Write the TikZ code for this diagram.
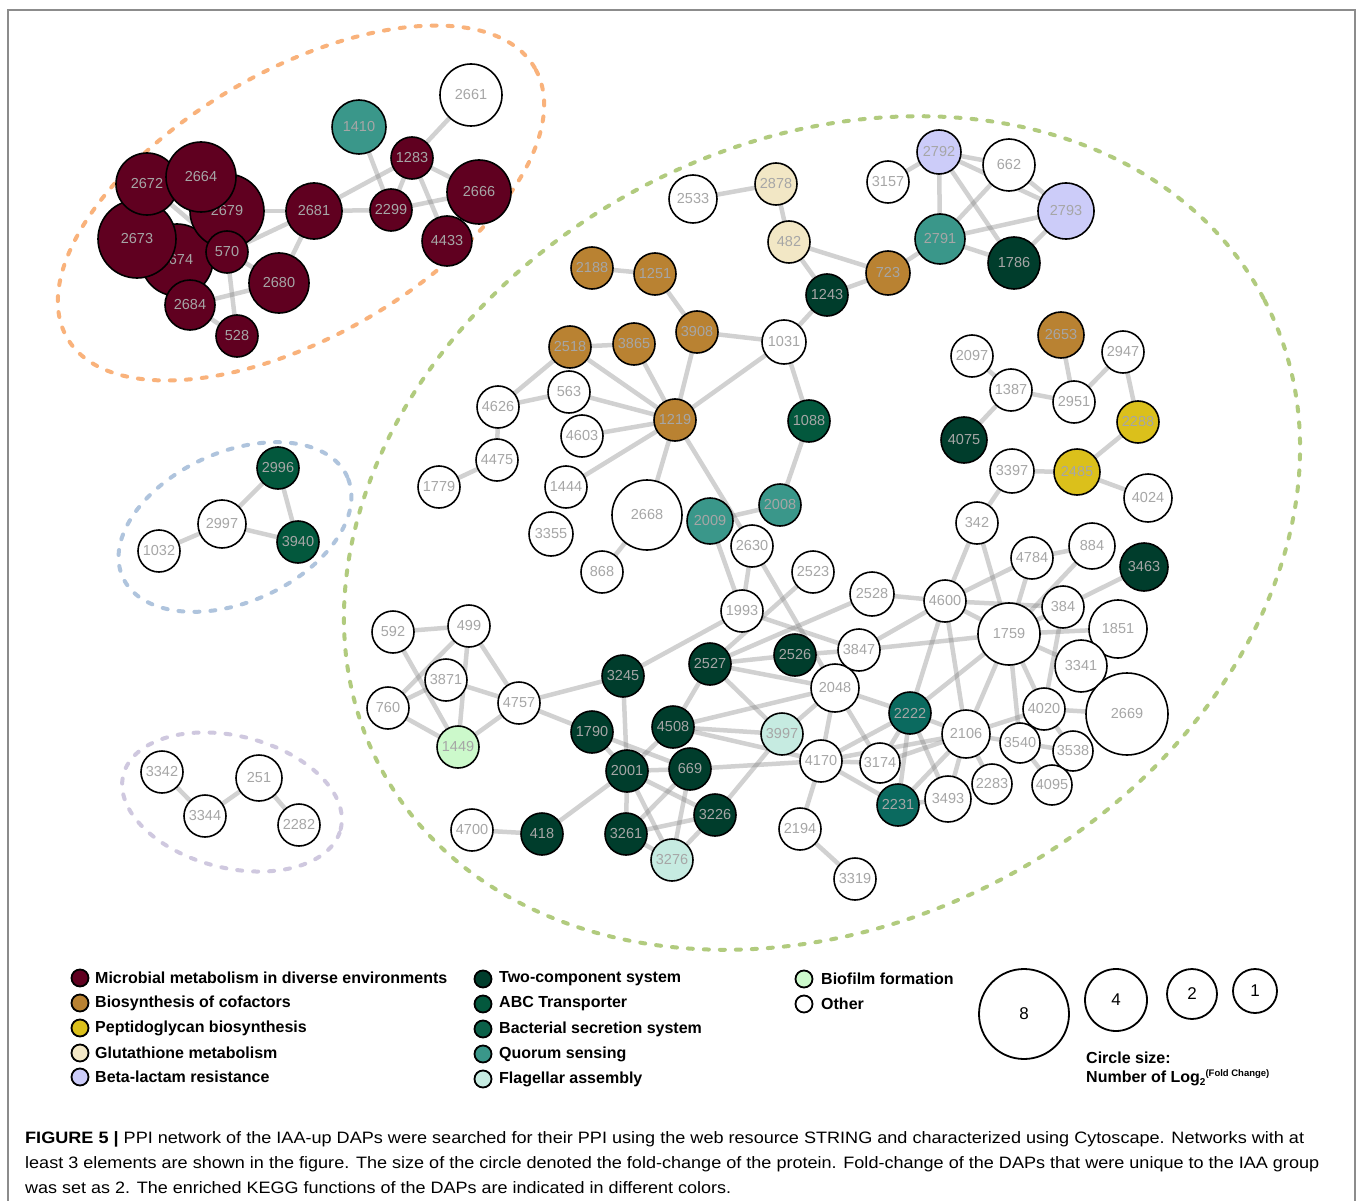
\documentclass[tikz,border=0pt]{standalone}
\usepackage{fontspec}
\setmainfont{Liberation Sans}
\usepackage{graphicx}
\pgfdeclarelayer{bgl}
\pgfdeclarelayer{edges}
\pgfdeclarelayer{hulls}
\pgfsetlayers{bgl,hulls,edges,main}
\definecolor{cmm}{HTML}{600020}
\definecolor{ccof}{HTML}{B98232}
\definecolor{cpep}{HTML}{DBC01B}
\definecolor{cglu}{HTML}{F2E7C5}
\definecolor{cbl}{HTML}{CCCCF9}
\definecolor{ctc}{HTML}{003D2C}
\definecolor{cabc}{HTML}{03583D}
\definecolor{csec}{HTML}{0B6A5F}
\definecolor{cqs}{HTML}{3A978A}
\definecolor{cfl}{HTML}{C6EBE1}
\definecolor{cbf}{HTML}{CCF9CB}
\definecolor{lbl}{HTML}{A6A6A6}
\definecolor{corg}{HTML}{F9B27B}
\definecolor{cgrn}{HTML}{B1CB7E}
\definecolor{cblu}{HTML}{AFC4DD}
\definecolor{cpur}{HTML}{CFC8DF}
\tikzset{
  nd/.style={circle, draw=black, line width=1.6pt, inner sep=0pt, text=lbl, font=\fontsize{14.5}{14.5}\selectfont},
  mm/.style={fill=cmm}, cof/.style={fill=ccof}, pep/.style={fill=cpep},
  glu/.style={fill=cglu}, bl/.style={fill=cbl}, tc/.style={fill=ctc},
  abc/.style={fill=cabc}, sec/.style={fill=csec}, qs/.style={fill=cqs},
  fl/.style={fill=cfl}, bf/.style={fill=cbf}, ot/.style={fill=white},
  ed/.style={draw=black!50, opacity=0.36, line width=4.5pt},
  hull/.style={line width=4pt, line cap=round, dash pattern=on 5pt off 11pt},
  legc/.style={circle, draw=black, line width=1.8pt, inner sep=0pt, minimum size=17pt},
  legt/.style={anchor=west, inner sep=0pt, font=\fontsize{16}{16}\selectfont\bfseries},
  sizec/.style={circle, draw=black, line width=1.8pt, inner sep=0pt, font=\fontsize{17}{17}\selectfont},
}
\newcommand\pn[5]{\node[nd,#5,minimum size={2*#4pt}] (n#1) at (#2,#3) {#1};}
\begin{document}
\begin{tikzpicture}[x=1pt,y=-1pt]
\useasboundingbox (0,0) rectangle (1360,1201);
\begin{pgfonlayer}{bgl}
\fill[white] (0,0) rectangle (1360,1201);
\end{pgfonlayer}
\draw[draw=black!45, line width=1.2pt] (8,1201) -- (8,10) -- (1355,10) -- (1355,1201);

% hulls
\begin{pgfonlayer}{hulls}
\draw[hull, draw=corg, rotate around={30:(301,203)}] (301,203) ellipse [x radius=270pt, y radius=133pt];
\draw[hull, draw=cgrn, rotate around={28:(822,533)}] (822,533) ellipse [x radius=500pt, y radius=390pt];
\draw[hull, draw=cblu, rotate around={24:(235,527)}] (235,527) ellipse [x radius=123pt, y radius=75pt];
\draw[hull, draw=cpur, rotate around={-14:(232,802)}] (232,802) ellipse [x radius=112pt, y radius=66pt];
\end{pgfonlayer}

% cluster 1
\pn{2674}{177}{260}{36}{mm}
\pn{2673}{137}{239}{39}{mm}
\pn{2672}{147}{184}{31}{mm}
\pn{2679}{227}{211}{37}{mm}
\pn{2664}{201}{177}{35}{mm}
\pn{570}{227}{252}{21}{mm}
\pn{2684}{190}{305}{25}{mm}
\pn{528}{237}{336}{21}{mm}
\pn{2680}{279}{283}{30}{mm}
\pn{2681}{314}{211}{28}{mm}
\pn{2299}{391}{210}{21}{mm}
\pn{1283}{412}{158}{21}{mm}
\pn{1410}{359}{127}{27}{qs}
\pn{2661}{471}{95}{31}{ot}
\pn{2666}{479}{192}{32}{mm}
\pn{4433}{447}{241}{25}{mm}
% cluster 2
\pn{2996}{278}{468}{21}{abc}
\pn{2997}{222}{524}{24}{ot}
\pn{3940}{298}{542}{21}{abc}
\pn{1032}{159}{551}{21}{ot}
% cluster 3
\pn{3342}{162}{772}{21}{ot}
\pn{3344}{205}{816}{21}{ot}
\pn{251}{259}{778}{23}{ot}
\pn{2282}{299}{825}{21}{ot}
% big cluster
\pn{2533}{693}{199}{24}{ot}
\pn{2878}{776}{184}{21}{glu}
\pn{482}{789}{242}{21}{glu}
\pn{3157}{888}{182}{21}{ot}
\pn{2188}{592}{268}{21}{cof}
\pn{1251}{655}{274}{21}{cof}
\pn{1243}{827}{295}{21}{tc}
\pn{723}{888}{273}{22}{cof}
\pn{2518}{570}{347}{21}{cof}
\pn{3865}{634}{344}{21}{cof}
\pn{3908}{697}{332}{21}{cof}
\pn{1031}{784}{342}{22}{ot}
\pn{2792}{939}{152}{22}{bl}
\pn{662}{1009}{165}{26}{ot}
\pn{2793}{1066}{211}{28}{bl}
\pn{2791}{940}{239}{25}{qs}
\pn{1786}{1014}{263}{26}{tc}
\pn{2653}{1061}{335}{23}{cof}
\pn{2097}{972}{356}{21}{ot}
\pn{2947}{1123}{352}{21}{ot}
\pn{1387}{1011}{390}{21}{ot}
\pn{2951}{1074}{402}{21}{ot}
\pn{2288}{1138}{422}{21}{pep}
\pn{4075}{964}{440}{23}{tc}
\pn{3397}{1012}{471}{22}{ot}
\pn{2485}{1077}{472}{23}{pep}
\pn{4024}{1148}{498}{24}{ot}
\pn{342}{977}{523}{21}{ot}
\pn{563}{569}{392}{21}{ot}
\pn{4626}{498}{407}{21}{ot}
\pn{4603}{582}{436}{21}{ot}
\pn{1219}{675}{420}{21}{cof}
\pn{1088}{809}{421}{21}{abc}
\pn{4475}{497}{460}{21}{ot}
\pn{1779}{439}{487}{21}{ot}
\pn{1444}{566}{487}{21}{ot}
\pn{3355}{551}{534}{22}{ot}
\pn{2668}{647}{515}{35}{ot}
\pn{2009}{710}{521}{23}{qs}
\pn{2008}{780}{505}{21}{qs}
\pn{2630}{752}{546}{21}{ot}
\pn{868}{602}{572}{21}{ot}
\pn{2523}{813}{572}{21}{ot}
\pn{1993}{742}{611}{21}{ot}
\pn{592}{393}{632}{21}{ot}
\pn{499}{469}{626}{21}{ot}
\pn{3871}{446}{680}{21}{ot}
\pn{760}{388}{708}{21}{ot}
\pn{4757}{519}{703}{21}{ot}
\pn{1449}{458}{747}{21}{bf}
\pn{3245}{623}{676}{21}{tc}
\pn{2527}{710}{664}{21}{tc}
\pn{2526}{795}{655}{21}{tc}
\pn{2048}{835}{688}{24}{ot}
\pn{1790}{592}{732}{21}{tc}
\pn{4508}{673}{727}{21}{tc}
\pn{3997}{782}{734}{21}{fl}
\pn{2001}{627}{771}{21}{tc}
\pn{669}{690}{769}{21}{tc}
\pn{4170}{821}{761}{21}{ot}
\pn{4700}{472}{830}{21}{ot}
\pn{418}{542}{834}{21}{tc}
\pn{3261}{626}{834}{21}{tc}
\pn{3226}{715}{815}{21}{tc}
\pn{3276}{672}{860}{21}{fl}
\pn{2194}{800}{829}{21}{ot}
\pn{3319}{855}{879}{21}{ot}
\pn{4784}{1032}{558}{21}{ot}
\pn{884}{1092}{546}{23}{ot}
\pn{3463}{1144}{567}{24}{tc}
\pn{2528}{872}{594}{22}{ot}
\pn{4600}{945}{601}{21}{ot}
\pn{384}{1063}{607}{21}{ot}
\pn{1759}{1009}{634}{31}{ot}
\pn{1851}{1118}{629}{29}{ot}
\pn{3847}{859}{650}{21}{ot}
\pn{3341}{1081}{666}{26}{ot}
\pn{2669}{1127}{714}{41}{ot}
\pn{4020}{1044}{709}{21}{ot}
\pn{2222}{910}{713}{21}{sec}
\pn{2106}{966}{734}{24}{ot}
\pn{3540}{1020}{743}{20}{ot}
\pn{3538}{1073}{751}{20}{ot}
\pn{3174}{880}{763}{20}{ot}
\pn{2231}{898}{805}{21}{sec}
\pn{3493}{948}{799}{23}{ot}
\pn{2283}{992}{784}{20}{ot}
\pn{4095}{1052}{785}{20}{ot}

% edges
\begin{pgfonlayer}{edges}
\foreach \a/\b in {2661/1283, 1283/2299, 1283/2666, 1283/4433, 1283/2681, 1410/2299, 2299/2666,
  2681/2299, 2681/2679, 2681/2680, 2681/570, 570/2680, 2684/2680, 570/528, 2684/528, 2672/570, 2679/2684,
  2996/2997, 2996/3940, 2997/3940, 2997/1032,
  3342/3344, 3344/251, 251/2282,
  2533/2878, 2878/482, 482/1243, 482/723, 1243/723, 723/2791, 3157/2792, 2792/662, 2792/2793, 662/2793,
  2792/2791, 2792/1786, 662/2791, 2791/2793, 2791/1786, 2793/1786,
  2188/1251, 1251/3908, 2518/3865, 3908/1031, 1243/1031, 3908/1219, 3865/1219, 2518/1219, 1031/1219,
  1031/1088, 2518/4626, 4626/563, 4626/4475, 4475/1779, 563/1219, 4603/1219, 1444/1219, 1219/2668,
  1219/2630, 868/2668, 2009/2008, 2008/1088, 2009/1993, 2630/1993, 2630/2048,
  2653/2951, 2947/2951, 2947/2288, 1387/2951, 2097/1387, 1387/4075, 2288/2485, 3397/2485, 2485/4024, 3397/342,
  2523/2527, 1993/3847, 1993/3245, 2527/2528, 2526/3847,
  2528/4600, 3847/4600, 3847/1759, 4600/342, 4600/4784, 4600/1759, 4600/384, 4600/2222, 4600/2106,
  1759/342, 1759/4784, 1759/384, 1759/1851, 1759/3341, 1759/4020, 1759/2106, 1759/3540, 1759/2222,
  4784/884, 384/3463, 884/1759, 384/4020, 4020/2669, 4020/2106, 4020/3538, 3540/3538, 3540/4095, 3540/2106,
  2106/2222, 2106/2283, 2106/3493, 2106/2231, 2106/3174, 4170/2106, 2222/3174, 2222/2231, 2222/4170,
  2222/3493, 2222/2048, 2048/4170, 2048/3174, 4170/3174, 4170/2231, 3493/2231, 4170/2194, 2194/3319,
  592/499, 592/1449, 499/760, 499/1449, 499/4757, 3871/760, 3871/4757, 760/1449, 1449/4757,
  4757/3245, 4757/1790, 1790/2001, 1790/669, 3245/2001, 2527/4508, 4508/2001, 4508/3997, 4508/2048,
  2527/3997, 2527/2048, 2527/2526, 2001/669, 669/4170, 2001/3261, 2001/3276, 2001/3226, 2001/418,
  669/3261, 669/3276, 3261/3226, 3226/3276, 3261/3276, 3226/3997, 418/4700, 3997/2048, 4508/4170}
  { \draw[ed] (n\a.center) -- (n\b.center); }
\end{pgfonlayer}

% legend
\node[legc, fill=cmm] (l1) at (80,978) {};
\node[legt] (t1) at (95,978) {Microbial metabolism in diverse environments};
\node[legc, fill=ccof] (l2) at (80,1003) {};
\node[legt] (t2) at (95,1003) {Biosynthesis of cofactors};
\node[legc, fill=cpep] (l3) at (80,1028) {};
\node[legt] (t3) at (95,1028) {Peptidoglycan biosynthesis};
\node[legc, fill=cglu] (l4) at (80,1053) {};
\node[legt] (t4) at (95,1053) {Glutathione metabolism};
\node[legc, fill=cbl] (l5) at (80,1077) {};
\node[legt] (t5) at (95,1077) {Beta-lactam resistance};
\node[legc, fill=ctc] (l6) at (483,979) {};
\node[legt] (t6) at (499,979) {Two-component system};
\node[legc, fill=cabc] (l7) at (483,1004) {};
\node[legt] (t7) at (499,1004) {ABC Transporter};
\node[legc, fill=cabc!85!cqs] (l8) at (483,1029) {};
\node[legt] (t8) at (499,1029) {Bacterial secretion system};
\node[legc, fill=cqs] (l9) at (483,1054) {};
\node[legt] (t9) at (499,1054) {Quorum sensing};
\node[legc, fill=cfl] (l10) at (483,1079) {};
\node[legt] (t10) at (499,1079) {Flagellar assembly};
\node[legc, fill=cbf] (l11) at (804,979) {};
\node[legt] (t11) at (821,979) {Biofilm formation};
\node[legc, fill=white] (l12) at (804,1004) {};
\node[legt] (t12) at (821,1004) {Other};

\node[sizec, minimum size=90pt] (s8) at (1024,1014) {8};
\node[sizec, minimum size=62pt] (s4) at (1116,1000) {4};
\node[sizec, minimum size=50pt] (s2) at (1192,994) {2};
\node[sizec, minimum size=44pt] (s1) at (1255,991) {1};
\node[legt] (cs1) at (1086,1058) {Circle size:};
\node[legt] (cs2) at (1086,1078) {Number of Log\raisebox{-3pt}{\fontsize{10}{10}\selectfont 2}\raisebox{6pt}{\fontsize{9.5}{10}\selectfont (Fold Change)}};

% caption
\node[anchor=base west, inner sep=0pt, font=\fontsize{16.5}{18}\selectfont] (cap1) at (25,1143)
  {\resizebox{1279pt}{\height}{\textbf{FIGURE 5 |} PPI network of the IAA-up DAPs were searched for their PPI using the web resource STRING and characterized using Cytoscape. Networks with at}};
\node[anchor=base west, inner sep=0pt, font=\fontsize{16.5}{18}\selectfont] (cap2) at (25,1168)
  {\resizebox{1294pt}{\height}{least 3 elements are shown in the figure. The size of the circle denoted the fold-change of the protein. Fold-change of the DAPs that were unique to the IAA group}};
\node[anchor=base west, inner sep=0pt, font=\fontsize{16.5}{18}\selectfont] (cap3) at (25,1193)
  {\resizebox{706pt}{\height}{was set as 2. The enriched KEGG functions of the DAPs are indicated in different colors.}};
\end{tikzpicture}
\end{document}
